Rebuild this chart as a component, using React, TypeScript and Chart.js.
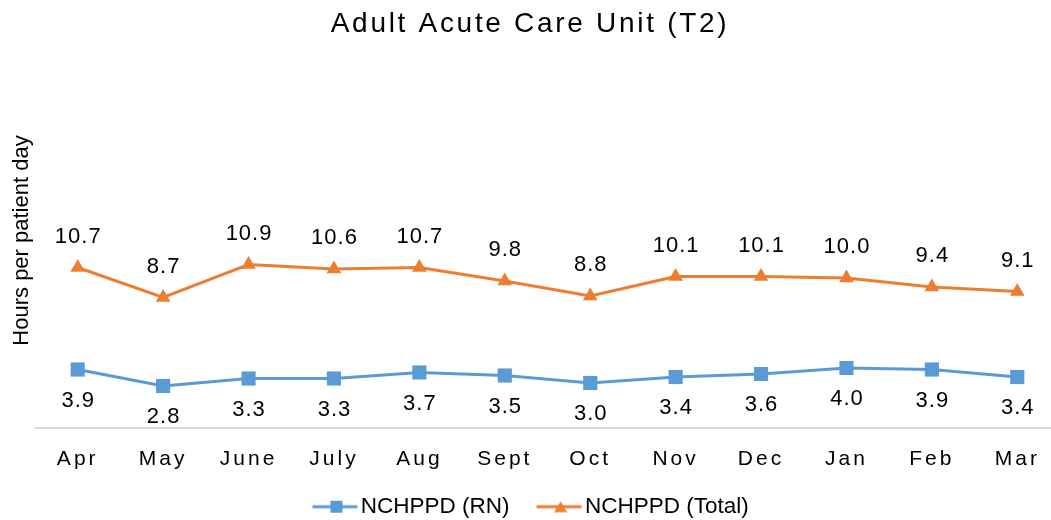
import React, { useEffect, useRef } from "react";
import { Chart, registerables } from "chart.js";

Chart.register(...registerables);

const months = ["Apr", "May", "June", "July", "Aug", "Sept", "Oct", "Nov", "Dec", "Jan", "Feb", "Mar"];
const rnValues = [3.9, 2.8, 3.3, 3.3, 3.7, 3.5, 3.0, 3.4, 3.6, 4.0, 3.9, 3.4];
const totalValues = [10.7, 8.7, 10.9, 10.6, 10.7, 9.8, 8.8, 10.1, 10.1, 10.0, 9.4, 9.1];
const seriesNames = ["NCHPPD (RN)", "NCHPPD (Total)"];
const chartTitle = "Adult Acute Care Unit (T2)";
const yAxisTitle = "Hours per patient day";

const BLUE = "#5B9BD5";
const ORANGE = "#ED7D31";
const FONT = "'Liberation Sans', Arial, sans-serif";

function makeLegendIcon(color: string, shape: string) {
  const c = document.createElement("canvas");
  c.width = 56;
  c.height = 16;
  const g = c.getContext("2d")!;
  g.fillStyle = color;
  g.fillRect(10, 6.5, 45, 3);
  const cx = 34;
  if (shape === "rect") {
    g.fillRect(cx - 6, 2, 12, 12);
  } else {
    g.beginPath();
    g.moveTo(cx, 2.5);
    g.lineTo(cx + 6.5, 13.5);
    g.lineTo(cx - 6.5, 13.5);
    g.closePath();
    g.fill();
  }
  return c;
}

const spacingPlugin = {
  id: "spacingAndLabels",
  afterInit(chart: any) {
    const tb = chart.titleBlock;
    if (tb) {
      const orig = tb.draw.bind(tb);
      tb.draw = (area: any) => {
        const ctx = chart.ctx;
        const prev = ctx.letterSpacing;
        ctx.letterSpacing = "2.7px";
        orig(area);
        ctx.letterSpacing = prev;
      };
    }
  },
  beforeDraw(chart: any) {
    chart.ctx.letterSpacing = "0px";
  },
  afterDatasetsDraw(chart: any) {
    const ctx = chart.ctx;
    ctx.save();
    ctx.font = `22px ${FONT}`;
    ctx.fillStyle = "#000";
    ctx.textAlign = "center";
    ctx.textBaseline = "middle";
    ctx.letterSpacing = "1px";
    chart.data.datasets.forEach((ds: any, i: number) => {
      const meta = chart.getDatasetMeta(i);
      const above = i === 1;
      meta.data.forEach((pt: any, j: number) => {
        const v = ds.data[j] as number;
        ctx.fillText(v.toFixed(1), pt.x + 0.5, above ? pt.y - 31 : pt.y + 31);
      });
    });
    ctx.restore();
    ctx.letterSpacing = "3px";
  },
  afterDraw(chart: any) {
    chart.ctx.letterSpacing = "0px";
  },
};

export default function App() {
  const ref = useRef<HTMLCanvasElement>(null);

  useEffect(() => {
    const canvas = ref.current!;
    const icons = [makeLegendIcon(BLUE, "rect"), makeLegendIcon(ORANGE, "triangle")];
    const chart = new Chart(canvas, {
      type: "line",
      data: {
        labels: months,
        datasets: [
          {
            label: seriesNames[0],
            data: rnValues,
            borderColor: BLUE,
            backgroundColor: BLUE,
            borderWidth: 3,
            pointStyle: "rect",
            pointRadius: 10,
            pointBorderWidth: 0,
            tension: 0,
            clip: false,
          },
          {
            label: seriesNames[1],
            data: totalValues,
            borderColor: ORANGE,
            backgroundColor: ORANGE,
            borderWidth: 3,
            pointStyle: "triangle",
            pointRadius: 8.5,
            pointBorderWidth: 0,
            tension: 0,
            clip: false,
          },
        ],
      },
      options: {
        responsive: false,
        animation: false,
        events: [],
        layout: { autoPadding: false, padding: { left: 0, right: 0, top: 0, bottom: -8 } },
        plugins: {
          title: {
            display: true,
            text: chartTitle,
            color: "#000",
            font: { family: FONT, size: 28, weight: "normal" },
            padding: { top: 7, bottom: 12.4 },
          },
          legend: {
            position: "bottom",
            labels: {
              usePointStyle: true,
              pointStyleWidth: 38.2,
              padding: 26,
              color: "#000",
              font: { family: FONT, size: 22.5 },
              generateLabels: (c: any) => {
                const items = (Chart as any).defaults.plugins.legend.labels.generateLabels(c);
                return items.map((it: any, i: number) => ({ ...it, pointStyle: icons[i], lineWidth: 0 }));
              },
            },
          },
          tooltip: { enabled: false },
        },
        scales: {
          x: {
            offset: true,
            grid: { display: false, drawTicks: false },
            border: { display: true, color: "#D9D9D9", width: 2 },
            ticks: {
              color: "#000",
              font: { family: FONT, size: 21, lineHeight: 1 },
              padding: 20.5,
              maxRotation: 0,
              autoSkip: false,
              z: 1,
            },
            afterFit: (s: any) => {
              s.height = 41.5;
              s.paddingLeft = 0;
              s.paddingRight = 0;
            },
          },
          y: {
            min: 0,
            max: 25,
            ticks: { display: false },
            grid: { display: false, drawTicks: false },
            border: { display: false },
            title: {
              display: true,
              text: yAxisTitle,
              color: "#000",
              font: { family: FONT, size: 22 },
              padding: { top: 9, bottom: 0 },
            },
            afterFit: (s: any) => {
              s.width = 35;
              s.paddingTop = 0;
              s.paddingBottom = 0;
            },
          },
        },
      } as any,
      plugins: [spacingPlugin as any],
    });
    return () => chart.destroy();
  }, []);

  return (
    <div
      style={{
        position: "absolute",
        left: 0,
        top: 0,
        width: 1051,
        height: 520,
        overflow: "hidden",
        background: "#fff",
      }}
    >
      <canvas ref={ref} width={1060} height={520} style={{ display: "block" }} />
    </div>
  );
}
